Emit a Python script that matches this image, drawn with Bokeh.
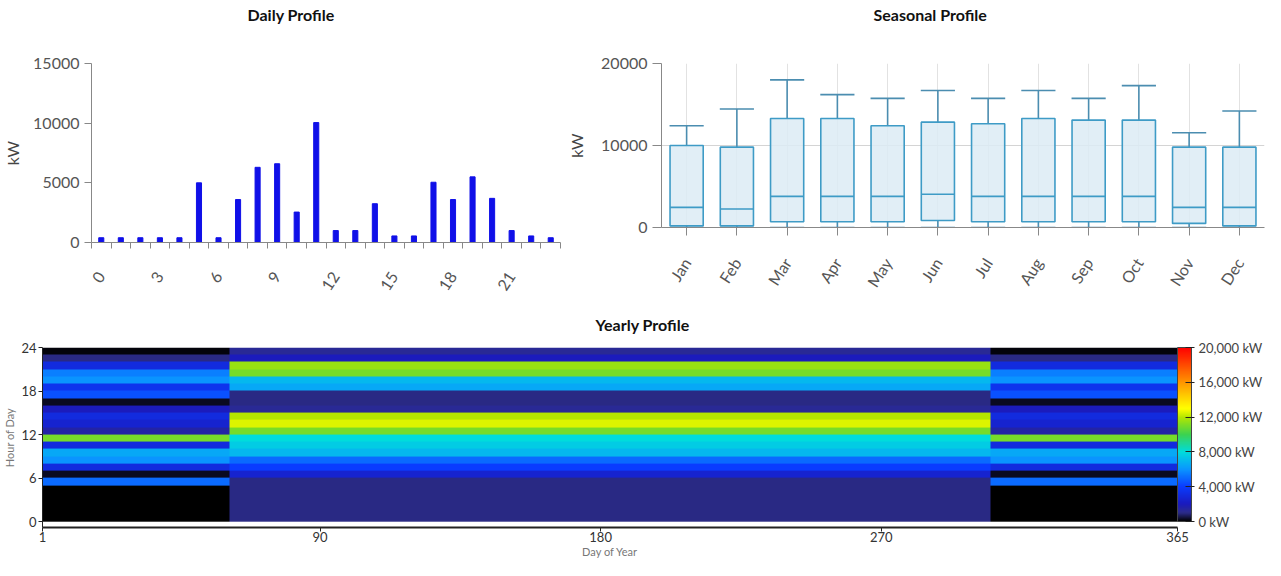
import numpy as np
from bokeh.plotting import figure
from bokeh.models import Range1d, FactorRange, FixedTicker, LinearColorMapper, ColorBar
from bokeh.layouts import column, row
from bokeh.embed import file_html
from bokeh.resources import INLINE

FONT = "Lato"

# ---------------- Daily profile data ----------------
hours = list(range(24))
daily_kw = [400, 400, 400, 400, 400, 5000, 400, 3600, 6300, 6600, 2550, 10050,
            1000, 1000, 3250, 550, 550, 5050, 3600, 5500, 3700, 1000, 550, 400]
daily_ticks = [0, 3, 6, 9, 12, 15, 18, 21]
daily_y_ticks = [0, 5000, 10000, 15000]

# ---------------- Seasonal profile data ----------------
months = ["Jan", "Feb", "Mar", "Apr", "May", "Jun",
          "Jul", "Aug", "Sep", "Oct", "Nov", "Dec"]
box_min = [0, 0, 0, 0, 0, 0, 0, 0, 0, 0, 0, 0]
box_q1 = [200, 200, 700, 700, 700, 850, 700, 700, 700, 700, 500, 200]
box_median = [2450, 2250, 3800, 3800, 3800, 4050, 3800, 3800, 3800, 3800, 2450, 2450]
box_q3 = [10000, 9800, 13300, 13300, 12400, 12850, 12650, 13300, 13100, 13100, 9800, 9800]
box_max = [12400, 14450, 18000, 16200, 15750, 16700, 15750, 16700, 15750, 17300, 11550, 14200]
seasonal_y_ticks = [0, 10000, 20000]

# ---------------- Yearly profile data ----------------
days = np.arange(1, 366)
summer_first_day = 61
summer_last_day = 305
winter_hourly_kw = [0, 0, 0, 0, 0, 5000, 300, 3000, 6000, 6500, 3000, 11000,
                    1500, 2500, 3000, 2000, 300, 4500, 3500, 6000, 5500, 3000, 1000, 100]
summer_hourly_kw = [1000, 1000, 1000, 1000, 1000, 1000, 2500, 4000, 5000, 7000, 7500, 8000,
                    11000, 12500, 12000, 1200, 1000, 1000, 6500, 7000, 11000, 11500, 2000, 1200]
day_ticks = [1, 90, 180, 270, 365]
hour_ticks = [0, 6, 12, 18, 24]
colorbar_ticks = [0, 4000, 8000, 12000, 16000, 20000]

# colour stops for the jet-like scale (fraction of max, rgb)
color_stops = [(0.00, (0, 0, 0)), (0.05, (44, 44, 140)), (0.10, (26, 26, 190)),
               (0.20, (10, 60, 255)), (0.30, (10, 150, 255)), (0.40, (0, 220, 220)),
               (0.50, (60, 210, 80)), (0.60, (180, 230, 0)), (0.65, (255, 255, 0)),
               (0.80, (255, 150, 0)), (1.00, (255, 0, 0))]


def build_palette(stops, n=256):
    pal = []
    for i in range(n):
        f = i / (n - 1)
        c = stops[-1][1]
        for (f0, c0), (f1, c1) in zip(stops[:-1], stops[1:]):
            if f0 <= f <= f1:
                t = (f - f0) / (f1 - f0)
                c = [round(a + (b - a) * t) for a, b in zip(c0, c1)]
                break
        pal.append("#%02x%02x%02x" % tuple(c))
    return pal


def style_title(p, offset, standoff, line_height=1.2):
    p.title.text_font = FONT
    p.title.text_font_size = "16px"
    p.title.text_font_style = "bold"
    p.title.text_color = "#111111"
    p.title.align = "left"
    p.title.offset = offset
    p.title.standoff = standoff
    p.title.text_line_height = line_height


# ================= Daily Profile =================
p1 = figure(width=564, height=298, x_range=Range1d(-0.5, 23.5), y_range=Range1d(0, 15000),
            title="Daily Profile\n\n", output_backend="svg", toolbar_location=None,
            min_border_left=82, min_border_right=4, min_border_top=0, min_border_bottom=0)
style_title(p1, 156, 4, 1.0)
p1.vbar(x=hours, top=daily_kw, width=0.26, color="#1010e8")
p1.grid.visible = False
p1.outline_line_color = None
p1.xaxis.ticker = FixedTicker(ticks=daily_ticks,
                              minor_ticks=[h - 0.5 for h in hours] + [hours[-1] + 0.5])
p1.xaxis.major_tick_out = 0
p1.xaxis.major_tick_in = 0
p1.xaxis.minor_tick_out = 6
p1.xaxis.minor_tick_in = 0
p1.xaxis.major_label_orientation = 1.0
p1.xaxis.major_label_standoff = 25
p1.yaxis.ticker = FixedTicker(ticks=daily_y_ticks)
p1.yaxis.major_tick_out = 7
p1.yaxis.major_tick_in = 0
p1.yaxis.axis_label = "kW"
p1.yaxis.axis_label_standoff = 8
for ax in (p1.xaxis, p1.yaxis):
    ax.axis_line_color = "#888888"
    ax.major_tick_line_color = "#888888"
    ax.minor_tick_line_color = "#888888"
    ax.major_label_text_font = FONT
    ax.major_label_text_font_size = "16px"
    ax.major_label_text_color = "#555555"
    ax.axis_label_text_font = FONT
    ax.axis_label_text_font_size = "16px"
    ax.axis_label_text_font_style = "normal"
    ax.axis_label_text_color = "#444444"
p1.yaxis.minor_tick_line_color = None

# ================= Seasonal Profile =================
p2 = figure(width=701, height=298, x_range=FactorRange(*months, range_padding=0),
            y_range=Range1d(0, 20000), title="Seasonal Profile\n\n", output_backend="svg",
            toolbar_location=None, min_border_left=84, min_border_right=1,
            min_border_top=0, min_border_bottom=0)
style_title(p2, 212, 4, 1.0)
box_line = "#3e9bc6"
whisk_line = "#4b8db0"
p2.segment(x0=months, y0=box_q3, x1=months, y1=box_max, line_color=whisk_line, line_width=1.6)
p2.segment(x0=months, y0=box_min, x1=months, y1=box_q1, line_color=whisk_line, line_width=1.6)
p2.vbar(x=months, top=box_max, bottom=box_max, width=0.68, fill_color=None,
        line_color=whisk_line, line_width=1.6)
p2.vbar(x=months, top=box_min, bottom=box_min, width=0.68, fill_color=None,
        line_color=whisk_line, line_width=1.6)
p2.vbar(x=months, top=box_q3, bottom=box_q1, width=0.66, fill_color="#dcebf5",
        fill_alpha=0.85, line_color=box_line, line_width=1.6)
p2.vbar(x=months, top=box_median, bottom=box_median, width=0.66, fill_color=None,
        line_color=box_line, line_width=1.6)
p2.outline_line_color = None
p2.xgrid.grid_line_color = "#e2e2e2"
p2.ygrid.grid_line_color = "#d4d4d4"
p2.yaxis.ticker = FixedTicker(ticks=seasonal_y_ticks)
p2.yaxis.minor_tick_line_color = None
p2.yaxis.major_tick_out = 9
p2.yaxis.major_tick_in = 0
p2.yaxis.axis_label = "kW"
p2.yaxis.axis_label_standoff = 12
p2.xaxis.major_tick_out = 8
p2.xaxis.major_tick_in = 0
p2.xaxis.major_label_orientation = 1.0
p2.xaxis.major_label_standoff = 24
for ax in (p2.xaxis, p2.yaxis):
    ax.axis_line_color = "#888888"
    ax.major_tick_line_color = "#888888"
    ax.major_label_text_font = FONT
    ax.major_label_text_font_size = "16px"
    ax.major_label_text_color = "#555555"
    ax.axis_label_text_font = FONT
    ax.axis_label_text_font_size = "16px"
    ax.axis_label_text_font_style = "normal"
    ax.axis_label_text_color = "#444444"

# ================= Yearly Profile =================
summer_mask = (days >= summer_first_day) & (days <= summer_last_day)
grid = np.where(summer_mask[None, :],
                np.array(summer_hourly_kw, dtype=float)[:, None],
                np.array(winter_hourly_kw, dtype=float)[:, None])

mapper = LinearColorMapper(palette=build_palette(color_stops), low=colorbar_ticks[0],
                           high=colorbar_ticks[-1])

p3 = figure(width=1265, height=262, x_range=Range1d(days[0], days[-1]),
            y_range=Range1d(-0.8, 24), title="Yearly Profile", output_backend="svg",
            toolbar_location=None, min_border_left=39, min_border_right=0,
            min_border_top=0, min_border_bottom=0)
style_title(p3, 553, 28)
p3.image(image=[grid], x=days[0], y=0, dw=days[-1] - days[0], dh=len(hours),
         color_mapper=mapper)
p3.grid.visible = False
p3.outline_line_color = None
p3.xaxis.ticker = FixedTicker(ticks=day_ticks)
p3.yaxis.ticker = FixedTicker(ticks=hour_ticks)
p3.xaxis.axis_label = "Day of Year"
p3.yaxis.axis_label = "Hour of Day"
p3.xaxis.axis_line_width = 2
p3.xaxis.major_tick_out = 4
p3.yaxis.major_tick_out = 4
p3.xaxis.major_label_standoff = 0
p3.yaxis.major_label_standoff = 2
p3.xaxis.axis_label_standoff = 0
p3.yaxis.axis_label_standoff = 2
for ax in (p3.xaxis, p3.yaxis):
    ax.minor_tick_line_color = None
    ax.major_tick_in = 0
    ax.axis_line_color = "#222222"
    ax.major_tick_line_color = "#222222"
    ax.major_label_text_font = FONT
    ax.major_label_text_font_size = "13px"
    ax.major_label_text_color = "#333333"
    ax.axis_label_text_font = FONT
    ax.axis_label_text_font_size = "11px"
    ax.axis_label_text_font_style = "normal"
    ax.axis_label_text_color = "#777777"

cbar = ColorBar(color_mapper=mapper, ticker=FixedTicker(ticks=colorbar_ticks),
                major_label_overrides={t: f"{t:,} kW" for t in colorbar_ticks},
                width=14, height=174, location="top_left", padding=0, margin=0,
                label_standoff=4, major_label_text_font=FONT,
                major_label_text_font_size="13px", major_label_text_color="#444444",
                major_tick_line_color="#222222", major_tick_in=6, major_tick_out=3,
                bar_line_color="#444444", border_line_color=None,
                background_fill_alpha=0)
p3.add_layout(cbar, "right")

layout = column(row(column(p1), column(p2)), p3)
open("out.html", "w").write(file_html(layout, INLINE))
